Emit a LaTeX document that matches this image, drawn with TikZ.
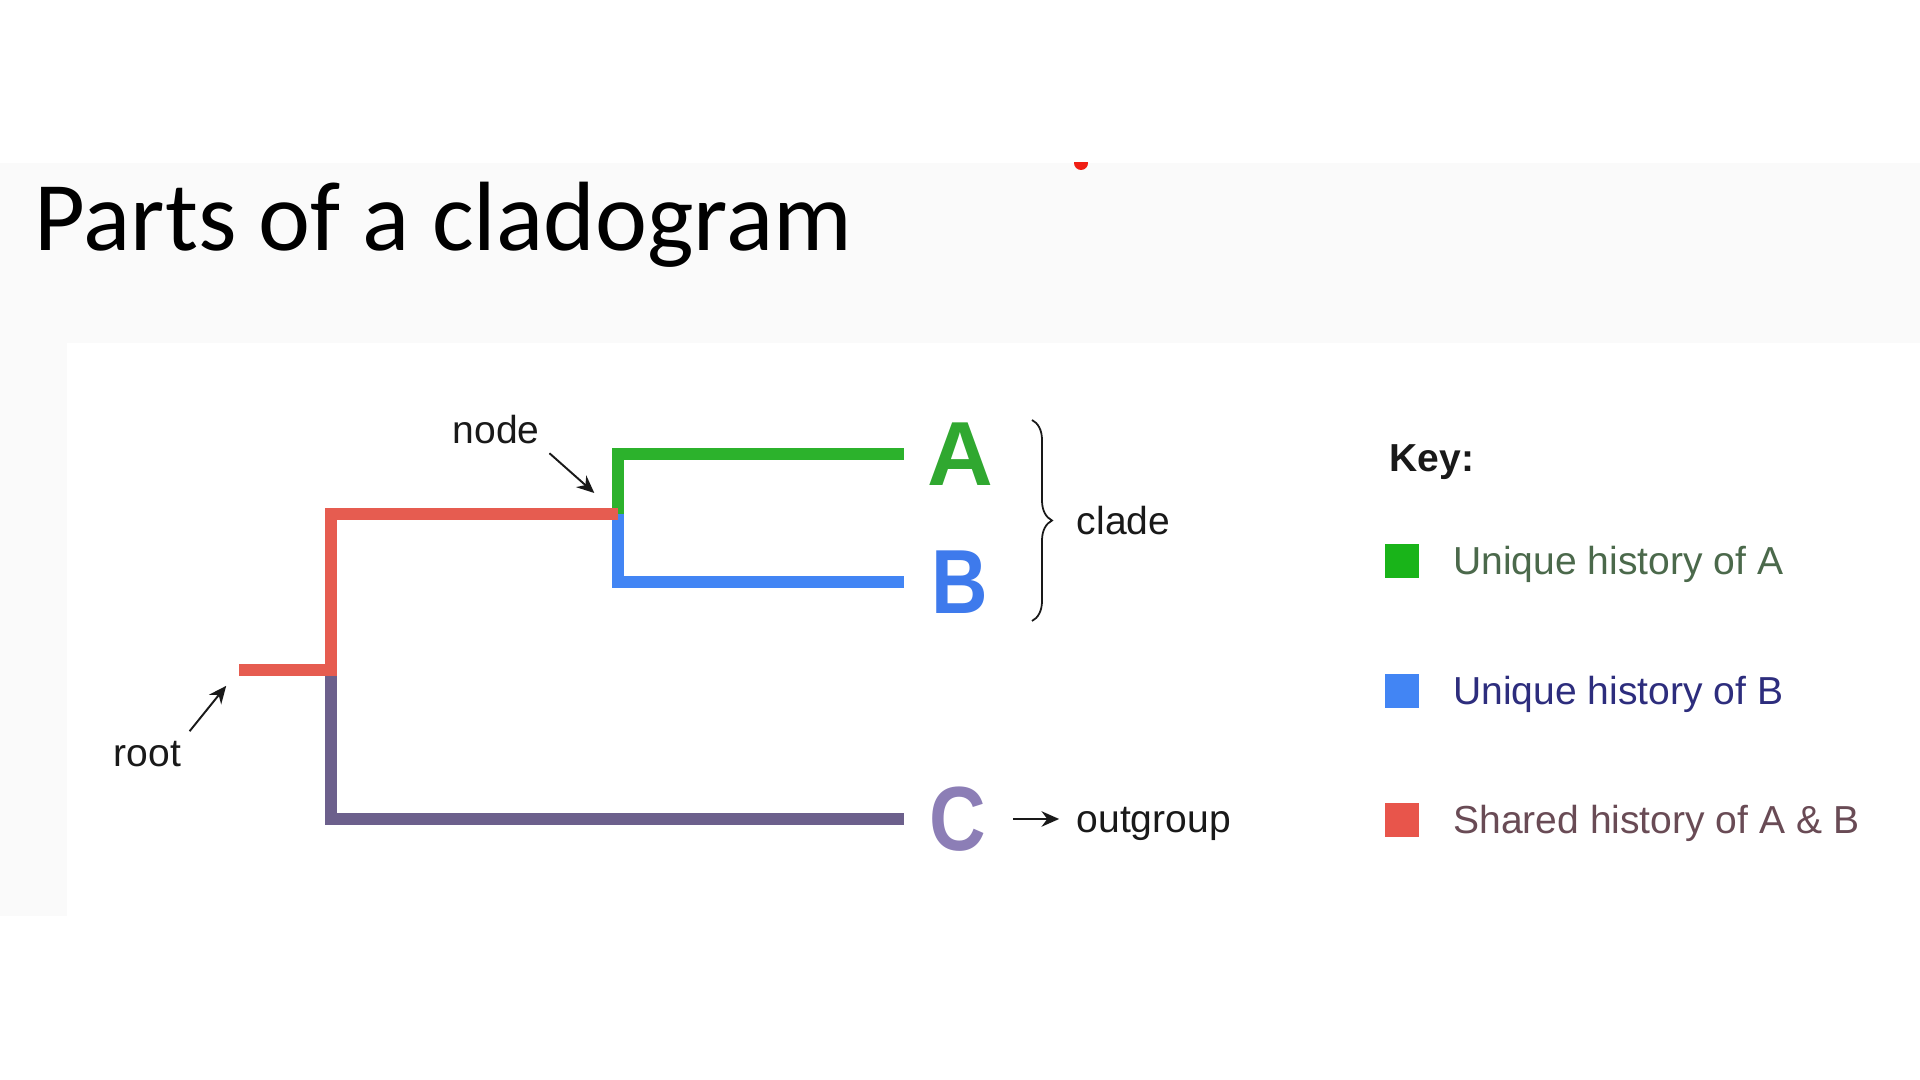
\documentclass[tikz,border=0pt]{standalone}
\usepackage{fontspec}
\setmainfont{Liberation Sans}
\newfontfamily\titlefont{Carlito}
\usepackage{tikz}
\usetikzlibrary{arrows.meta, positioning, decorations.pathreplacing}
\definecolor{mydark}{RGB}{25,25,25}
\definecolor{slidegray}{RGB}{250,250,250}
\definecolor{dotred}{RGB}{240,30,20}
\definecolor{branchgreen}{RGB}{44,178,44}
\definecolor{branchblue}{RGB}{66,133,244}
\definecolor{branchred}{RGB}{230,92,80}
\definecolor{branchpurple}{RGB}{108,96,140}
\definecolor{letterA}{RGB}{48,168,48}
\definecolor{letterB}{RGB}{62,122,236}
\definecolor{letterC}{RGB}{140,126,182}
\definecolor{keygreen}{RGB}{25,180,25}
\definecolor{keyblue}{RGB}{66,133,244}
\definecolor{keyred}{RGB}{232,85,75}
\definecolor{keytxtA}{RGB}{75,105,75}
\definecolor{keytxtB}{RGB}{45,45,125}
\definecolor{keytxtR}{RGB}{105,75,85}
\tikzset{
  branch/.style={line width=3.4pt, line join=miter},
  tipletter/.style={inner sep=0pt, font=\fontsize{25.9}{30}\selectfont\bfseries},
  tag/.style={inner sep=0pt, font=\fontsize{11.1}{13}\selectfont, text=mydark},
  pointer/.style={-{Stealth[length=5pt, width=4.4pt]}, line width=0.55pt, color=mydark},
  keybox/.style={rectangle, minimum size=0.34cm, inner sep=0pt},
  keytext/.style={inner sep=0pt, yshift=-1.1pt, font=\fontsize{11.1}{13}\selectfont}
}
\begin{document}
\begin{tikzpicture}[x=0.01cm, y=-0.01cm]
  \useasboundingbox (0,0) rectangle (1920,1080);
  % Slide background
  \fill[slidegray] (0,163) rectangle (1920,916);
  \fill[white] (67,343) rectangle (1920,916);
  % Pointer dot
  \begin{scope}
    \clip (1060,163) rectangle (1100,190);
    \fill[dotred] (1081,163) circle[radius=7];
  \end{scope}
  % Title
  \node[anchor=base west, inner sep=0pt, font=\titlefont\fontsize{28}{34}\selectfont]
    (title) at (34,251) {Parts of a cladogram};

  % Branch points
  \coordinate (root) at (239,670);
  \coordinate (fork) at (331,670);
  \coordinate (nodeAB) at (618,514);
  \coordinate (tipA) at (904,454);
  \coordinate (tipB) at (904,582);
  \coordinate (tipC) at (904,819);

  % Branches
  \draw[branch, branchpurple] (fork) |- (tipC);
  \draw[branch, branchgreen] (nodeAB) |- (tipA);
  \draw[branch, branchblue] (nodeAB) |- (tipB);
  \draw[branch, branchred] (root) -- (fork) |- (nodeAB);

  % Taxa
  \node[tipletter, text=letterA, right=0.23cm of tipA] (A) {A};
  \node[tipletter, text=letterB, right=0.27cm of tipB] (B) {\scalebox{0.86}[1]{B}};
  \node[tipletter, text=letterC, right=0.25cm of tipC] (C) {\scalebox{0.86}[1]{C}};

  % Labels and pointers
  \node[tag, anchor=base west] (nodelbl) at (452,444) {node};
  \draw[pointer, shorten <=3.5pt, shorten >=9pt] (nodelbl.south east) -- (nodeAB);
  \node[tag, anchor=base west] (rootlbl) at (113,767) {root};
  \draw[pointer, shorten <=3.6pt, shorten >=5.8pt] (rootlbl.north east) -- (root);

  % Clade brace
  \draw[decorate, decoration={brace, amplitude=0.2cm}, line width=0.5pt, mydark]
    (1032,420) -- (1032,621) node[tag, midway, right=0.44cm] (clade) {clade};

  % Outgroup
  \node[tag, anchor=base west] (outgroup) at (1076,833) {outgroup};
  \draw[pointer, shorten <=7.5pt, shorten >=4.8pt] (C.east |- tipC) -- (outgroup.west |- tipC);

  % Key
  \node[anchor=base west, inner sep=0pt, font=\fontsize{11.1}{13}\selectfont\bfseries, text=mydark]
    (key) at (1389,472) {Key:};
  \foreach \i/\y/\fc/\tc/\txt in {1/561/keygreen/keytxtA/Unique history of A,
      2/691/keyblue/keytxtB/Unique history of B,
      3/820/keyred/keytxtR/Shared history of A \& B} {
    \node[keybox, fill=\fc] (sq\i) at (1402,\y) {};
    \node[keytext, text=\tc, right=0.33cm of sq\i] (kt\i) {\txt};
  }
\end{tikzpicture}
\end{document}
